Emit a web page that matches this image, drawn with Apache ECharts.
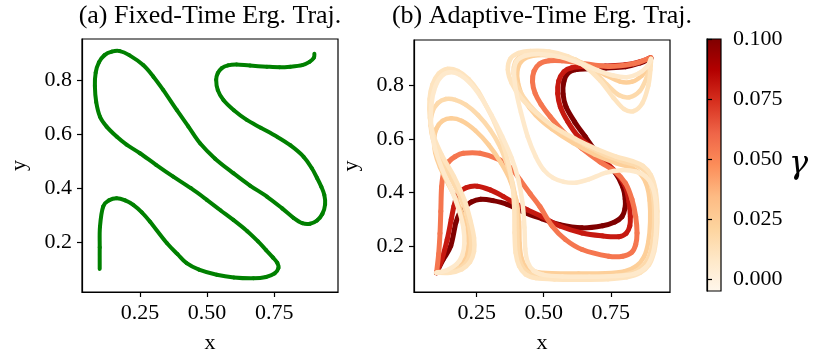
<!DOCTYPE html>
<html lang="en" style="height: 100%">
<head>
    <meta charset="UTF-8" />
    <title>Erg. Traj.</title>
    <style>
        body { margin: 0; background: #fff; }
        #container { width: 830px; height: 361px; }
    </style>
</head>
<body>
    <div id="container"></div>
    <script src="https://cdn.jsdelivr.net/npm/echarts@6/dist/echarts.min.js"></script>
    <script type="text/javascript">
        // ticks
        var xTicks = [0.25, 0.5, 0.75];
        var yTicks = [0.2, 0.4, 0.6, 0.8];
        var cbTicks = [0, 0.025, 0.05, 0.075, 0.1];
        var gammaMin = -0.005, gammaMax = 0.1;
        var orrd = ['#fff7ec', '#fee8c8', '#fdd49e', '#fdbb84', '#fc8d59', '#ef6548', '#d7301f', '#b30000', '#7f0000'];

        // (a) fixed-time trajectory
        var fixedTraj = [[0.100,0.100],[0.100,0.180],[0.101,0.257],[0.113,0.332],[0.135,0.355],[0.163,0.363],[0.195,0.355],
            [0.225,0.338],[0.257,0.310],[0.287,0.276],[0.350,0.196],[0.390,0.155],[0.424,0.121],[0.470,0.097],[0.536,0.078],
            [0.600,0.068],[0.673,0.065],[0.720,0.070],[0.752,0.083],[0.766,0.103],[0.762,0.122],[0.745,0.143],[0.720,0.170],
            [0.690,0.202],[0.650,0.240],[0.598,0.282],[0.550,0.318],[0.499,0.357],[0.440,0.400],[0.374,0.443],[0.310,0.487],
            [0.250,0.530],[0.200,0.562],[0.163,0.592],[0.125,0.630],[0.101,0.666],[0.087,0.720],[0.082,0.780],[0.085,0.830],
            [0.097,0.868],[0.118,0.895],[0.145,0.908],[0.175,0.910],[0.210,0.895],[0.262,0.858],[0.300,0.815],[0.337,0.765],
            [0.387,0.691],[0.430,0.630],[0.474,0.567],[0.530,0.510],[0.598,0.456],[0.660,0.410],[0.723,0.369],[0.780,0.325],
            [0.822,0.290],[0.855,0.270],[0.884,0.268],[0.910,0.280],[0.930,0.305],[0.940,0.340],[0.937,0.375],[0.926,0.405],
            [0.910,0.438],[0.890,0.475],[0.860,0.517],[0.810,0.560],[0.760,0.592],[0.700,0.625],[0.648,0.654],[0.600,0.690],
            [0.561,0.728],[0.540,0.765],[0.534,0.803],[0.540,0.828],[0.555,0.847],[0.578,0.857],[0.610,0.860],[0.660,0.856],
            [0.723,0.852],[0.770,0.850],[0.810,0.852],[0.855,0.858],[0.882,0.870],[0.898,0.885],[0.900,0.900]];

        // (b) adaptive-time trajectories, one per gamma
        var gammas = [0.1, 0.08, 0.055, 0.024, 0.017, 0.011, 0.007];
        var trajG100 = [[0.100,0.100],[0.125,0.150],[0.153,0.200],[0.172,0.287],[0.185,0.320],[0.203,0.343],[0.230,0.365],
            [0.265,0.375],[0.310,0.370],[0.364,0.356],[0.430,0.325],[0.494,0.302],[0.560,0.280],[0.643,0.268],[0.720,0.276],
            [0.765,0.290],[0.792,0.310],[0.803,0.340],[0.804,0.375],[0.795,0.420],[0.767,0.474],[0.730,0.509],[0.690,0.560],
            [0.655,0.609],[0.615,0.665],[0.583,0.721],[0.572,0.770],[0.575,0.815],[0.590,0.847],[0.620,0.860],[0.670,0.863],
            [0.730,0.866],[0.805,0.871],[0.860,0.885],[0.892,0.900],[0.900,0.903]];
        var trajG080 = [[0.100,0.100],[0.120,0.150],[0.140,0.225],[0.155,0.300],[0.165,0.349],[0.180,0.395],[0.210,0.418],
            [0.252,0.424],[0.300,0.410],[0.350,0.385],[0.389,0.362],[0.440,0.335],[0.494,0.310],[0.560,0.275],[0.643,0.249],
            [0.720,0.238],[0.780,0.235],[0.808,0.248],[0.821,0.275],[0.823,0.310],[0.818,0.365],[0.804,0.424],[0.770,0.475],
            [0.730,0.515],[0.690,0.560],[0.630,0.609],[0.590,0.665],[0.562,0.721],[0.552,0.770],[0.556,0.818],[0.575,0.852],
            [0.605,0.867],[0.660,0.872],[0.730,0.874],[0.805,0.878],[0.860,0.890],[0.898,0.905]];
        var trajG055 = [[0.100,0.100],[0.108,0.170],[0.113,0.247],[0.116,0.330],[0.119,0.422],[0.128,0.480],[0.145,0.515],
            [0.170,0.535],[0.200,0.547],[0.262,0.547],[0.337,0.522],[0.380,0.490],[0.412,0.447],[0.450,0.395],[0.486,0.347],
            [0.531,0.275],[0.580,0.225],[0.643,0.187],[0.742,0.162],[0.795,0.162],[0.828,0.176],[0.843,0.205],[0.848,0.249],
            [0.843,0.310],[0.829,0.375],[0.805,0.435],[0.765,0.480],[0.710,0.515],[0.643,0.565],[0.580,0.620],[0.524,0.684],
            [0.490,0.730],[0.468,0.771],[0.458,0.815],[0.464,0.855],[0.485,0.882],[0.520,0.893],[0.570,0.893],[0.640,0.884],
            [0.742,0.872],[0.835,0.882],[0.884,0.899],[0.900,0.905]];
        var trajG024 = [[0.100,0.100],[0.140,0.105],[0.178,0.122],[0.203,0.150],[0.215,0.190],[0.214,0.240],[0.203,0.295],
            [0.180,0.360],[0.145,0.430],[0.113,0.495],[0.095,0.550],[0.091,0.600],[0.100,0.640],[0.122,0.668],[0.155,0.678],
            [0.195,0.668],[0.245,0.632],[0.295,0.578],[0.340,0.512],[0.375,0.445],[0.398,0.370],[0.408,0.290],[0.410,0.210],
            [0.417,0.155],[0.435,0.122],[0.468,0.104],[0.530,0.098],[0.630,0.097],[0.730,0.098],[0.800,0.105],[0.845,0.125],
            [0.874,0.160],[0.890,0.215],[0.897,0.290],[0.895,0.370],[0.885,0.425],[0.865,0.465],[0.830,0.492],[0.770,0.510],
            [0.690,0.543],[0.610,0.585],[0.530,0.638],[0.470,0.690],[0.428,0.745],[0.405,0.805],[0.402,0.860],[0.420,0.895],
            [0.460,0.912],[0.530,0.913],[0.600,0.900],[0.670,0.872],[0.730,0.840],[0.785,0.815],[0.830,0.815],[0.866,0.838],
            [0.890,0.870],[0.900,0.900]];
        var trajG017 = [[0.100,0.100],[0.145,0.102],[0.188,0.117],[0.215,0.145],[0.228,0.190],[0.226,0.250],[0.212,0.320],
            [0.190,0.380],[0.155,0.450],[0.115,0.525],[0.088,0.595],[0.078,0.650],[0.084,0.700],[0.105,0.735],[0.135,0.750],
            [0.170,0.747],[0.210,0.728],[0.255,0.690],[0.300,0.635],[0.338,0.570],[0.365,0.500],[0.385,0.430],[0.397,0.350],
            [0.401,0.260],[0.404,0.185],[0.414,0.135],[0.437,0.104],[0.475,0.090],[0.540,0.085],[0.640,0.085],[0.740,0.087],
            [0.810,0.095],[0.855,0.113],[0.888,0.150],[0.905,0.210],[0.912,0.290],[0.910,0.370],[0.900,0.430],[0.882,0.475],
            [0.850,0.500],[0.800,0.515],[0.730,0.540],[0.650,0.580],[0.570,0.625],[0.500,0.675],[0.445,0.730],[0.405,0.790],
            [0.388,0.845],[0.395,0.890],[0.425,0.915],[0.480,0.923],[0.550,0.918],[0.620,0.897],[0.680,0.860],[0.735,0.805],
            [0.780,0.765],[0.820,0.757],[0.858,0.780],[0.884,0.830],[0.898,0.875],[0.900,0.900]];
        var trajG011 = [[0.100,0.100],[0.150,0.100],[0.195,0.113],[0.225,0.140],[0.240,0.180],[0.240,0.230],[0.228,0.290],
            [0.205,0.370],[0.165,0.460],[0.120,0.540],[0.090,0.610],[0.075,0.680],[0.074,0.750],[0.085,0.805],[0.108,0.845],
            [0.140,0.863],[0.180,0.855],[0.220,0.825],[0.255,0.780],[0.285,0.725],[0.315,0.665],[0.345,0.590],[0.368,0.510],
            [0.383,0.430],[0.390,0.340],[0.391,0.250],[0.395,0.175],[0.408,0.125],[0.432,0.094],[0.470,0.080],[0.540,0.075],
            [0.640,0.074],[0.740,0.076],[0.810,0.083],[0.860,0.100],[0.893,0.130],[0.912,0.180],[0.922,0.250],[0.924,0.330],
            [0.917,0.410],[0.900,0.465],[0.870,0.500],[0.830,0.518],[0.770,0.535],[0.700,0.562],[0.620,0.600],[0.540,0.645],
            [0.470,0.700],[0.415,0.755],[0.380,0.810],[0.366,0.860],[0.375,0.900],[0.405,0.922],[0.450,0.930],[0.520,0.928],
            [0.590,0.910],[0.650,0.875],[0.710,0.820],[0.760,0.755],[0.800,0.712],[0.835,0.705],[0.868,0.735],[0.890,0.800],
            [0.898,0.860],[0.900,0.900]];
        var trajG007 = [[0.100,0.100],[0.140,0.110],[0.175,0.132],[0.196,0.165],[0.204,0.210],[0.200,0.270],[0.185,0.330],
            [0.160,0.400],[0.122,0.485],[0.093,0.570],[0.080,0.650],[0.081,0.730],[0.095,0.795],[0.118,0.835],[0.150,0.850],
            [0.185,0.842],[0.225,0.810],[0.265,0.758],[0.305,0.690],[0.345,0.610],[0.380,0.530],[0.405,0.450],[0.421,0.360],
            [0.428,0.270],[0.431,0.190],[0.440,0.140],[0.462,0.108],[0.500,0.092],[0.570,0.086],[0.670,0.085],[0.770,0.088],
            [0.840,0.097],[0.880,0.120],[0.905,0.165],[0.917,0.230],[0.920,0.310],[0.916,0.380],[0.903,0.428],[0.880,0.460],
            [0.845,0.478],[0.790,0.484],[0.730,0.474],[0.670,0.450],[0.620,0.437],[0.575,0.440],[0.535,0.455],[0.500,0.485],
            [0.470,0.535],[0.440,0.610],[0.415,0.700],[0.397,0.780],[0.389,0.845],[0.398,0.890],[0.430,0.912],[0.490,0.918],
            [0.560,0.908],[0.630,0.885],[0.700,0.858],[0.760,0.838],[0.810,0.832],[0.852,0.845],[0.884,0.870],[0.900,0.900]];
        var adaptiveTrajs = [trajG100, trajG080, trajG055, trajG024, trajG017, trajG011, trajG007];

        function hexRgb(h) {
            return [parseInt(h.substr(1, 2), 16), parseInt(h.substr(3, 2), 16), parseInt(h.substr(5, 2), 16)];
        }
        function gammaColor(g) {
            var t = (g - gammaMin) / (gammaMax - gammaMin);
            t = Math.max(0, Math.min(1, t)) * (orrd.length - 1);
            var i = Math.min(Math.floor(t), orrd.length - 2), f = t - i;
            var a = hexRgb(orrd[i]), b = hexRgb(orrd[i + 1]);
            return 'rgb(' + [0, 1, 2].map(function (k) { return Math.round(a[k] + (b[k] - a[k]) * f); }).join(',') + ')';
        }

        // one smooth (catmull-rom) segment per data item, positioned with api.coord
        function trajSeries(pts, axisIdx, color, width) {
            var n = pts.length;
            return {
                type: 'custom', xAxisIndex: axisIdx, yAxisIndex: axisIdx, data: pts, silent: true,
                encode: { x: 0, y: 1 },
                renderItem: function (params, api) {
                    var i = params.dataIndex;
                    if (i >= n - 1) return null;
                    var p0 = api.coord(pts[Math.max(i - 1, 0)]);
                    var p1 = api.coord(pts[i]);
                    var p2 = api.coord(pts[i + 1]);
                    var p3 = api.coord(pts[Math.min(i + 2, n - 1)]);
                    return {
                        type: 'bezierCurve',
                        shape: {
                            x1: p1[0], y1: p1[1], x2: p2[0], y2: p2[1],
                            cpx1: p1[0] + (p2[0] - p0[0]) / 6, cpy1: p1[1] + (p2[1] - p0[1]) / 6,
                            cpx2: p2[0] - (p3[0] - p1[0]) / 6, cpy2: p2[1] - (p3[1] - p1[1]) / 6
                        },
                        style: { stroke: color, lineWidth: width, fill: null, lineCap: 'round' }
                    };
                }
            };
        }

        var font = '"Liberation Serif", "DejaVu Serif", serif';
        var txt = { color: '#000', fontFamily: font, fontSize: 22 };

        function xAxisFor(idx, min, max) {
            return {
                type: 'value', gridIndex: idx, min: min, max: max,
                name: 'x', nameLocation: 'middle', nameGap: 40, nameTextStyle: txt,
                axisLine: { show: true, onZero: false, lineStyle: { color: '#000', width: 1.2 } },
                axisTick: { show: true, length: 5, customValues: xTicks, lineStyle: { color: '#000', width: 1.2 } },
                axisLabel: Object.assign({ margin: 10, customValues: xTicks, formatter: function (v) { return v.toFixed(2); } }, txt),
                splitLine: { show: false }
            };
        }
        function yAxisFor(idx, min, max) {
            return {
                type: 'value', gridIndex: idx, min: min, max: max,
                name: 'y', nameLocation: 'middle', nameGap: 52, nameTextStyle: txt,
                axisLine: { show: true, onZero: false, lineStyle: { color: '#000', width: 1.2 } },
                axisTick: { show: true, length: 5, customValues: yTicks, lineStyle: { color: '#000', width: 1.2 } },
                axisLabel: Object.assign({ margin: 10, customValues: yTicks, formatter: function (v) { return v.toFixed(1); } }, txt),
                splitLine: { show: false }
            };
        }

        var series = [trajSeries(fixedTraj, 0, '#008000', 4)];
        for (let i = 0; i < adaptiveTrajs.length; i++) {
            series.push(trajSeries(adaptiveTrajs[i], 1, gammaColor(gammas[i]), gammas[i] > 0.05 ? 5 : 4.5));
        }

        var cbStops = [];
        for (let i = 0; i < orrd.length; i++) {
            cbStops.push({ offset: i / (orrd.length - 1), color: orrd[orrd.length - 1 - i] });
        }

        var myChart = echarts.init(document.getElementById('container'));
        var option = {
            animation: false,
            backgroundColor: '#fff',
            title: [
                { text: '(a) Fixed-Time Erg. Traj.', left: 210, top: 3, textAlign: 'center', padding: 0,
                  textStyle: { color: '#000', fontFamily: font, fontSize: 26, fontWeight: 'normal' } },
                { text: '(b) Adaptive-Time Erg. Traj.', left: 542, top: 3, textAlign: 'center', padding: 0,
                  textStyle: { color: '#000', fontFamily: font, fontSize: 26, fontWeight: 'normal' } }
            ],
            grid: [
                { left: 82, top: 39, width: 256, height: 253, show: true, borderColor: '#000', borderWidth: 1.2 },
                { left: 414, top: 40, width: 256, height: 252, show: true, borderColor: '#000', borderWidth: 1.2 },
                { left: 707, top: 39, width: 14, height: 252, show: true, borderColor: '#000', borderWidth: 1.2,
                  backgroundColor: { type: 'linear', x: 0, y: 0, x2: 0, y2: 1, colorStops: cbStops } }
            ],
            xAxis: [
                xAxisFor(0, 0.034, 0.988),
                xAxisFor(1, 0.016, 0.971),
                { type: 'value', gridIndex: 2, min: 0, max: 1, show: false }
            ],
            yAxis: [
                yAxisFor(0, 0.014, 0.955),
                yAxisFor(1, 0.028, 0.971),
                {
                    type: 'value', gridIndex: 2, position: 'right', min: gammaMin, max: gammaMax,
                    name: 'γ', nameLocation: 'middle', nameRotate: 0, nameGap: 68,
                    nameTextStyle: { color: '#000', fontFamily: '"DejaVu Serif", serif', fontSize: 32, fontStyle: 'italic' },
                    axisLine: { show: true, lineStyle: { color: '#000', width: 1.2 } },
                    axisTick: { show: true, length: 5, customValues: cbTicks, lineStyle: { color: '#000', width: 1.2 } },
                    axisLabel: Object.assign({ margin: 12, customValues: cbTicks, formatter: function (v) { return v.toFixed(3); } }, txt),
                    splitLine: { show: false }
                }
            ],
            series: series
        };
        myChart.setOption(option);
    </script>
</body>
</html>
